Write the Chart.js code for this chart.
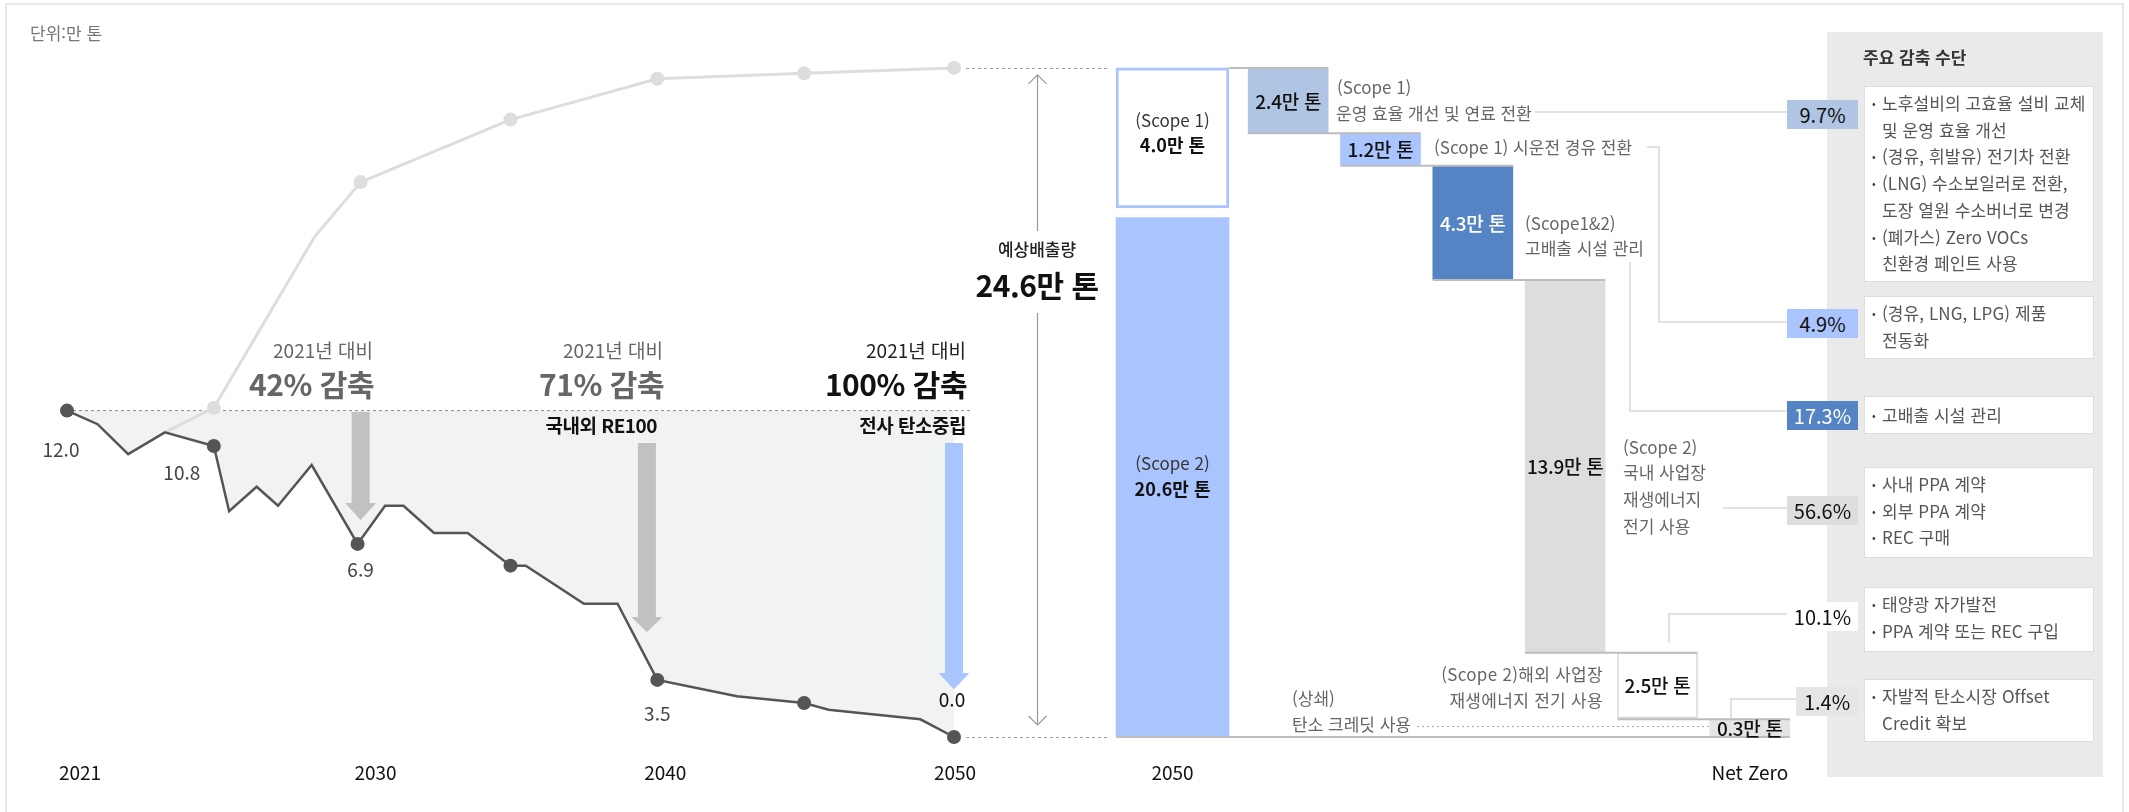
<!DOCTYPE html>
<html lang="ko">
<head>
<meta charset="utf-8">
<title>탄소중립 감축 경로</title>
<script src="https://cdn.jsdelivr.net/npm/chart.js@4.4.1/dist/chart.umd.min.js"></script>
<style>
  html,body{margin:0;padding:0;background:#fff;}
  body{width:2129px;height:812px;overflow:hidden;font-family:"Noto Sans CJK KR","Noto Sans",sans-serif;}
  #stage{position:relative;width:2129px;height:812px;overflow:hidden;}
  #frame{position:absolute;left:5px;top:3px;width:2119px;height:900px;border:2px solid #e8e8e8;box-sizing:border-box;}
  canvas.layer{position:absolute;left:0;top:0;width:2129px;height:812px;}
  .t{position:absolute;white-space:nowrap;line-height:1.2;}
  #panel{position:absolute;left:1827px;top:32px;width:276px;height:745px;background:#e9eae9;}
  .mbox{position:absolute;left:1864px;width:230px;background:#fff;border:1px solid #dcdddc;box-sizing:border-box;padding:3px 0 0 17px;font-size:17px;letter-spacing:0.1px;line-height:26.7px;color:#555;}
  .item{position:relative;white-space:nowrap;}
  .item .b{position:absolute;left:-10px;top:0;font-size:11px;color:#444;}
  .share{position:absolute;height:29px;line-height:29px;text-align:center;font-size:20px;color:#111;}
</style>
</head>
<body>
<div id="stage">
  <div id="frame"></div>
  <div id="panel"></div>
  <canvas id="cA" class="layer" width="2129" height="812"></canvas>
  <canvas id="cB1" class="layer" width="2129" height="812"></canvas>
  <canvas id="cB2" class="layer" width="2129" height="812"></canvas>
</div>
<script>
// ---------------- DATA ----------------
// 배출량 감축 경로 (dark line), x in years, y in 만 톤
const emissionX = [2021.0, 2022.0, 2023.0, 2024.2, 2025.8, 2026.3, 2027.2, 2027.9, 2029.0, 2030.5, 2031.4, 2032.0, 2033.0, 2034.1, 2035.5, 2036.0, 2037.9, 2039.0, 2040.3, 2042.9, 2045.1, 2045.9, 2048.9, 2050.0];
const emissionY = [12.0, 11.5, 10.4, 11.2, 10.7, 8.3, 9.2, 8.5, 10.0, 7.1, 8.5, 8.5, 7.5, 7.5, 6.3, 6.3, 4.9, 4.9, 2.1, 1.5, 1.25, 1.0, 0.65, 0.0];
const emissionMarkers = [0, 4, 9, 14, 18, 20, 23];
const emissionLabelIndex = [0, 4, 9, 18, 23];
const emissionLabelText = ['12.0', '10.8', '6.9', '3.5', '0.0'];

// 예상배출량 (BAU, light line)
const bauX = [2024.2, 2025.8, 2029.1, 2030.6, 2035.5, 2040.3, 2045.1, 2050.0];
const bauY = [11.2, 12.1, 18.4, 20.4, 22.7, 24.2, 24.4, 24.6];
const bauMarkers = [1, 3, 4, 5, 6, 7];

const xTickLabels = ['2021', '2030', '2040', '2050'];
const xTickAnchor = [0, 9, 18, 23];

// 2050 column
const columnCategory = ['2050'];
const scope2Range = [0, 19.1];
const scope1Range = [19.45, 24.6];
const scope2Text = ['(Scope 2)', '20.6만 톤'];
const scope1Text = ['(Scope 1)', '4.0만 톤'];

// waterfall steps
const stepCategories = ['운영 효율 개선 및 연료 전환', '시운전 경유 전환', '고배출 시설 관리', '국내 사업장 재생에너지', '해외 사업장 재생에너지', '탄소 크레딧 사용'];
const stepTickLabels = ['', '', '', '', '', 'Net Zero'];
const stepLow  = [22.2, 21.0, 16.8, 3.1, 0.7, 0.0];
const stepHigh = [24.6, 22.2, 21.0, 16.8, 3.1, 0.65];
const stepValueLabels = ['2.4만 톤', '1.2만 톤', '4.3만 톤', '13.9만 톤', '2.5만 톤', '0.3만 톤'];

const shareLabels = ['9.7%', '4.9%', '17.3%', '56.6%', '10.1%', '1.4%'];
const measureGroups = [
  [['노후설비의 고효율 설비 교체', '및 운영 효율 개선'], ['(경유, 휘발유) 전기차 전환'], ['(LNG) 수소보일러로 전환,', '도장 열원 수소버너로 변경'], ['(폐가스) Zero VOCs', '친환경 페인트 사용']],
  [['(경유, LNG, LPG) 제품', '전동화']],
  [['고배출 시설 관리']],
  [['사내 PPA 계약'], ['외부 PPA 계약'], ['REC 구매']],
  [['태양광 자가발전'], ['PPA 계약 또는 REC 구입']],
  [['자발적 탄소시장 Offset', 'Credit 확보']]
];

// ---------------- STYLE / LAYOUT ----------------
const W = 2129, H = 812;
const PAD_TOP = 57, PAD_BOTTOM = 75;
const FONT = '"Noto Sans CJK KR", "Noto Sans", sans-serif';
Chart.defaults.font.family = FONT;
const stepColors = ['#b0c4e4', '#aac4fd', '#5584c4', '#dcdddc', '#ffffff', '#e3e4e3'];
const stepBorderW = [0, 0, 0, 0, 1.5, 0];
const stepLabelColor = ['#111', '#111', '#fff', '#111', '#111', '#111'];
const shareStyle = [
  {top:100, left:1787, bg:'#b0c4e4', c:'#111'},
  {top:309, left:1787, bg:'#aac4fd', c:'#111'},
  {top:401, left:1787, bg:'#5584c4', c:'#fff'},
  {top:496, left:1787, bg:'#dcdddc', c:'#111'},
  {top:602, left:1787, bg:'#ffffff', c:'#111'},
  {top:687, left:1796, bg:'#e4e5e4', c:'#111'}
];
const boxLayout = [{top:86,h:196},{top:296,h:63},{top:396,h:38},{top:467,h:91},{top:587,h:65},{top:679,h:63}];
// annotation arrows (in data units of chart A)
const downArrows = [
  {x:2030.6, from:11.95, headAt:8.60, tip:7.98, color:'#c0c1c0'},
  {x:2039.96, from:10.81, headAt:4.41, tip:3.86, color:'#c0c1c0'},
  {x:2050.0, from:10.81, headAt:2.35, tip:1.76, color:'#aac4fd'}
];
const pointLabelOffset = [[-6,38],[-32,26],[3,25],[0,33],[-2,-38]];
const tickOffset = [13, 18, 8, 1];
const shareLinks = [
  [[1535,112],[1787,112]],
  [[1647,147],[1659,147],[1659,322],[1787,322]],
  [[1630,262],[1630,411],[1787,411]],
  [[1723,508],[1787,508]],
  [[1669,643],[1669,614],[1787,614]],
  [[1731,718],[1731,699],[1796,699]]
];

function yOpts(){ return {type:'linear', min:0, max:25, display:false}; }
const commonPlugins = {legend:{display:false}, tooltip:{enabled:false}};

// ---------------- CHART A (line) ----------------
const decorA = {
  id:'decorA',
  beforeDatasetsDraw(chart){
    const {ctx, scales:{x, y}} = chart;
    ctx.save();
    ctx.strokeStyle = '#8c8c8c'; ctx.lineWidth = 1; ctx.setLineDash([3,3]);
    const yb = y.getPixelForValue(emissionY[0]);
    ctx.beginPath(); ctx.moveTo(x.getPixelForValue(emissionX[0]), yb); ctx.lineTo(x.getPixelForValue(2050.6), yb); ctx.stroke();
    ctx.restore();
  },
  afterDatasetsDraw(chart){
    const {ctx, scales:{x, y}} = chart;
    ctx.save();
    downArrows.forEach(a => {
      const cx = x.getPixelForValue(a.x), top = y.getPixelForValue(a.from), ht = y.getPixelForValue(a.headAt), tip = y.getPixelForValue(a.tip);
      const sw = 9, hw = 15.5;
      ctx.fillStyle = a.color; ctx.beginPath();
      ctx.moveTo(cx - sw, top); ctx.lineTo(cx + sw, top); ctx.lineTo(cx + sw, ht); ctx.lineTo(cx + hw, ht);
      ctx.lineTo(cx, tip); ctx.lineTo(cx - hw, ht); ctx.lineTo(cx - sw, ht); ctx.closePath(); ctx.fill();
    });
    // reference dashed lines from 2050 to the column
    const endX = x.getPixelForValue(bauX[bauX.length-1]);
    ctx.strokeStyle = '#a0a0a0'; ctx.lineWidth = 1; ctx.setLineDash([3,3]);
    [bauY[bauY.length-1], 0].forEach(v => {
      const yy = Math.round(y.getPixelForValue(v)) + 0.5;
      ctx.beginPath(); ctx.moveTo(endX + 12, yy); ctx.lineTo(x.getPixelForValue(2055.1), yy); ctx.stroke();
    });
    // double arrow (예상배출량)
    ctx.setLineDash([]); ctx.strokeStyle = '#9a9a9a'; ctx.lineWidth = 1.2;
    const ax = Math.round(x.getPixelForValue(2052.71)) + 0.5;
    const t = y.getPixelForValue(bauY[bauY.length-1]) + 7, b = y.getPixelForValue(0) - 12;
    ctx.beginPath();
    ctx.moveTo(ax, t); ctx.lineTo(ax, 231);
    ctx.moveTo(ax, 313); ctx.lineTo(ax, b);
    ctx.moveTo(ax - 9, t + 9); ctx.lineTo(ax, t); ctx.lineTo(ax + 9, t + 9);
    ctx.moveTo(ax - 9, b - 9); ctx.lineTo(ax, b); ctx.lineTo(ax + 9, b - 9);
    ctx.stroke();
    ctx.restore();
  }
};

const chartA = new Chart(document.getElementById('cA'), {
  type:'line',
  data:{datasets:[
    {label:'감축 경로', data: emissionX.map((v,i)=>({x:v, y:emissionY[i]})),
     borderColor:'#555555', borderWidth:2.5, backgroundColor:'#f1f3f2',
     fill:{value: emissionY[0]}, tension:0, clip:false,
     pointRadius: c => emissionMarkers.includes(c.dataIndex) ? 7 : 0,
     pointBackgroundColor:'#555555', pointBorderWidth:0},
    {label:'예상배출량', data: bauX.map((v,i)=>({x:v, y:bauY[i]})),
     borderColor:'#dcdddc', borderWidth:3, fill:false, tension:0, clip:false,
     pointRadius: c => bauMarkers.includes(c.dataIndex) ? 7 : 0,
     pointBackgroundColor:'#dcdddc', pointBorderWidth:0}
  ]},
  options:{
    responsive:false, animation:false, devicePixelRatio:1, events:[],
    layout:{padding:{left:67, right:W-954, top:PAD_TOP, bottom:PAD_BOTTOM}},
    scales:{x:{type:'linear', min:2021, max:2050, display:false}, y:yOpts()},
    plugins:Object.assign({filler:{drawTime:'beforeDatasetsDraw'}}, commonPlugins)
  },
  plugins:[decorA]
});

// ---------------- CHART B1 (2050 column) ----------------
const chartB1 = new Chart(document.getElementById('cB1'), {
  type:'bar',
  data:{labels:columnCategory, datasets:[
    {label:'Scope 2', data:[scope2Range], backgroundColor:'#aac4fd', borderWidth:0},
    {label:'Scope 1', data:[scope1Range], backgroundColor:'#ffffff', borderColor:'#aac4fd', borderWidth:3, borderSkipped:false}
  ]},
  options:{
    responsive:false, animation:false, devicePixelRatio:1, events:[],
    datasets:{bar:{grouped:false, barThickness:113}},
    layout:{padding:{left:1100, right:W-1245, top:PAD_TOP, bottom:PAD_BOTTOM}},
    scales:{x:{type:'category', display:false}, y:yOpts()},
    plugins:commonPlugins
  }
});

// ---------------- CHART B2 (waterfall steps) ----------------
const decorB2 = {
  id:'decorB2',
  afterDatasetsDraw(chart){
    const ctx = chart.ctx, y = chart.scales.y;
    const els = chart.getDatasetMeta(0).data;
    const col = chartB1.getDatasetMeta(0).data[0];
    const colLeft = col.x - col.width/2, colRight = col.x + col.width/2;
    const line = pts => { ctx.beginPath(); pts.forEach((p,i)=> i ? ctx.lineTo(p[0],p[1]) : ctx.moveTo(p[0],p[1])); ctx.stroke(); };
    ctx.save();
    ctx.strokeStyle = '#bdbdbd'; ctx.lineWidth = 2;
    els.forEach((el,i) => {
      const top = Math.min(el.y, el.base);
      const left = i === 0 ? colRight : els[i-1].x - els[i-1].width/2;
      line([[left, top], [el.x + el.width/2, top]]);
    });
    const last = els[els.length-1];
    const y0 = y.getPixelForValue(0);
    line([[colLeft, y0], [last.x + last.width/2, y0]]);
    // dotted leader from 탄소 크레딧 사용
    ctx.strokeStyle = '#a8a8a8'; ctx.lineWidth = 1; ctx.setLineDash([2,3]);
    line([[1417, 726.5], [last.x - last.width/2, 726.5]]);
    // links to share boxes
    ctx.setLineDash([]); ctx.strokeStyle = '#d9d9d9'; ctx.lineWidth = 1.5;
    shareLinks.forEach(l => line(l));
    ctx.restore();
  }
};

const chartB2 = new Chart(document.getElementById('cB2'), {
  type:'bar',
  data:{labels:stepCategories, datasets:[
    {label:'감축 수단', data: stepLow.map((v,i)=>[v, stepHigh[i]]),
     backgroundColor: stepColors, borderColor:'#d5d5d5', borderWidth: stepBorderW, borderSkipped:false}
  ]},
  options:{
    responsive:false, animation:false, devicePixelRatio:1, events:[],
    datasets:{bar:{barThickness:80}},
    layout:{padding:{left:1242, right:W-1796, top:PAD_TOP, bottom:PAD_BOTTOM}},
    scales:{x:{type:'category', display:false}, y:yOpts()},
    plugins:commonPlugins
  },
  plugins:[decorB2]
});

// ---------------- TEXT ----------------
const stage = document.getElementById('stage');
function txt(s, x, y, o){
  o = o || {};
  const d = document.createElement('div');
  d.className = 't'; d.textContent = s;
  d.style.fontSize = (o.size || 17) + 'px';
  d.style.fontWeight = o.weight || 400;
  d.style.color = o.color || '#666';
  d.style.top = y + 'px';
  const a = o.align || 'left';
  if (a === 'left') { d.style.left = x + 'px'; d.style.transform = 'translateY(-50%)'; }
  else if (a === 'right') { d.style.right = (W - x) + 'px'; d.style.transform = 'translateY(-50%)'; }
  else { d.style.left = x + 'px'; d.style.transform = 'translate(-50%,-50%)'; }
  if (o.ls) d.style.letterSpacing = o.ls;
  if (o.bg) { d.style.background = o.bg; }
  stage.appendChild(d);
  return d;
}

txt('단위:만 톤', 30, 33, {size:17, color:'#777'});

// point labels & x ticks for chart A
const metaA = chartA.getDatasetMeta(0).data;
emissionLabelIndex.forEach((idx, k) => {
  const p = metaA[idx], off = pointLabelOffset[k];
  const dark = k === emissionLabelIndex.length - 1;
  txt(emissionLabelText[k], p.x + off[0], p.y + off[1], {align:'center', size:19, color: dark ? '#111' : '#444'});
});
xTickLabels.forEach((s, k) => {
  const p = metaA[xTickAnchor[k]];
  txt(s, p.x + tickOffset[k], 772, {align:'center', size:19, color:'#111'});
});

// arrow group captions
txt('2021년 대비', 373, 350, {align:'right', size:19, color:'#666'});
txt('42% 감축', 374, 383, {align:'right', size:30, weight:700, color:'#666', ls:'-0.5px'});
txt('2021년 대비', 663, 350, {align:'right', size:19, color:'#666'});
txt('71% 감축', 664, 383, {align:'right', size:30, weight:700, color:'#666', ls:'-0.5px'});
txt('국내외 RE100', 657, 425, {align:'right', size:19, weight:700, color:'#111', ls:'-0.5px'});
txt('2021년 대비', 966, 350, {align:'right', size:19, color:'#222'});
txt('100% 감축', 967, 383, {align:'right', size:30, weight:700, color:'#111', ls:'-0.5px'});
txt('전사 탄소중립', 966, 425, {align:'right', size:19, weight:700, color:'#111', ls:'-0.5px'});

// 예상배출량
txt('예상배출량', 1037, 249, {align:'center', size:17, color:'#222', weight:500});
txt('24.6만 톤', 1037, 284, {align:'center', size:30, weight:700, color:'#111', ls:'-0.5px'});

// 2050 column labels
const colEl = chartB1.getDatasetMeta(0).data[0];
txt(scope1Text[0], colEl.x, 120, {align:'center', size:17, color:'#333'});
txt(scope1Text[1], colEl.x, 145, {align:'center', size:18, weight:700, color:'#111'});
txt(scope2Text[0], colEl.x, 463, {align:'center', size:17, color:'#333'});
txt(scope2Text[1], colEl.x, 489, {align:'center', size:18, weight:700, color:'#111'});
txt(columnCategory[0], colEl.x, 772, {align:'center', size:19, color:'#111'});

// waterfall value labels
const metaB2 = chartB2.getDatasetMeta(0).data;
metaB2.forEach((el, i) => {
  const mid = (el.y + el.base) / 2;
  txt(stepValueLabels[i], el.x, mid, {align:'center', size:19, weight:500, color:stepLabelColor[i], ls:'-0.3px'});
  if (stepTickLabels[i]) txt(stepTickLabels[i], el.x, 772, {align:'center', size:19, color:'#111'});
});

// waterfall annotations
const G = {size:17, color:'#666'};
txt('(Scope 1)', 1337, 87, G);
txt('운영 효율 개선 및 연료 전환', 1336, 113, G);
txt('(Scope 1) 시운전 경유 전환', 1434, 147, G);
txt('(Scope1&2)', 1525, 223, G);
txt('고배출 시설 관리', 1525, 248, G);
txt('(Scope 2)', 1623, 447, G);
txt('국내 사업장', 1623, 472, G);
txt('재생에너지', 1623, 499, G);
txt('전기 사용', 1623, 526, G);
txt('(Scope 2)해외 사업장', 1603, 674, Object.assign({align:'right', ls:'0.3px'}, G));
txt('재생에너지 전기 사용', 1603, 700, Object.assign({align:'right', ls:'0.3px'}, G));
txt('(상쇄)', 1292, 698, G);
txt('탄소 크레딧 사용', 1292, 724, G);

// right panel
txt('주요 감축 수단', 1863, 57, {size:17, weight:700, color:'#333'});
measureGroups.forEach((grp, gi) => {
  const box = document.createElement('div');
  box.className = 'mbox';
  box.style.top = boxLayout[gi].top + 'px';
  box.style.height = boxLayout[gi].h + 'px';
  grp.forEach(item => {
    item.forEach((ln, li) => {
      const d = document.createElement('div');
      d.className = 'item';
      if (li === 0) { const b = document.createElement('span'); b.className = 'b'; b.textContent = '•'; d.appendChild(b); }
      d.appendChild(document.createTextNode(ln));
      box.appendChild(d);
    });
  });
  if (grp.length === 1 && grp[0].length === 1) { box.style.paddingTop = '0px'; box.style.lineHeight = (boxLayout[gi].h - 2) + 'px'; }
  stage.appendChild(box);
});
shareLabels.forEach((s, i) => {
  const st = shareStyle[i];
  const d = document.createElement('div');
  d.className = 'share'; d.textContent = s;
  d.style.left = st.left + 'px'; d.style.top = st.top + 'px';
  d.style.width = (1858 - st.left) + 'px';
  d.style.background = st.bg; d.style.color = st.c;
  stage.appendChild(d);
});
</script>
</body>
</html>
